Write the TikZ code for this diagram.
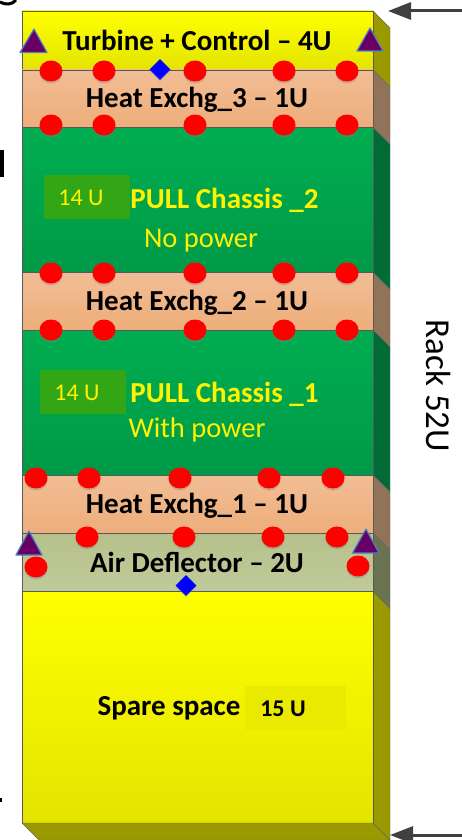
\documentclass[tikz,border=0pt]{standalone}
\usepackage{fontspec}
\setmainfont{Carlito}
\usetikzlibrary{arrows.meta,shadows,shapes.geometric}
\definecolor{rackyellow}{HTML}{9A9A00}
\definecolor{rackbrown}{HTML}{917359}
\definecolor{rackgreen}{HTML}{006B35}
\definecolor{rackolive}{HTML}{6A7350}
\definecolor{yellowtop}{HTML}{FFFF00}
\definecolor{yellowbot}{HTML}{E4E400}
\definecolor{peachtop}{HTML}{F2BD95}
\definecolor{peachbot}{HTML}{EDAE7A}
\definecolor{greentop}{HTML}{00AD50}
\definecolor{greenbot}{HTML}{009A48}
\definecolor{olivetop}{HTML}{B5C08A}
\definecolor{olivebot}{HTML}{C0CB9A}
\definecolor{boxgreen}{HTML}{33A616}
\definecolor{boxyellow}{HTML}{EAEA00}
\definecolor{trianglefill}{HTML}{660066}
\definecolor{triangleline}{HTML}{4F81BD}
\tikzset{
  reddot/.style={ellipse, fill=red, minimum width=23pt, minimum height=21pt, inner sep=0,
    drop shadow={shadow xshift=0pt, shadow yshift=-2pt, opacity=.35}},
  bluediamond/.style={diamond, fill=blue, minimum size=21pt, inner sep=0,
    drop shadow={shadow xshift=0pt, shadow yshift=-1.5pt, opacity=.3}},
  purpletriangle/.style={draw=triangleline, line width=1.2pt, fill=trianglefill, line join=round},
  layertext/.style={font=\fontsize{29}{32}\selectfont\bfseries, text=black, inner sep=0},
  pulltext/.style={font=\fontsize{29}{32}\selectfont\bfseries, text=yellow, inner sep=0},
  notetext/.style={font=\fontsize{28.5}{32}\selectfont, text=yellow, inner sep=0},
  sizetext/.style={font=\fontsize{24}{28}\selectfont, text=yellow, inner sep=0},
  sizebox/.style={minimum width=86pt, minimum height=44pt, inner sep=0},
  rackarrow/.style={draw=black!75, line width=3pt, -{Stealth[length=23pt,width=17pt,inset=0pt]}}
}
\begin{document}
\begin{tikzpicture}[x=1pt,y=-1pt]
\useasboundingbox (0,0) rectangle (462,840);
% layers of the rack, top to bottom
\foreach \ya/\yb/\ctop/\cbot/\cside in {11/70/yellowtop/yellowbot/rackyellow,
    70/127.5/peachtop/peachbot/rackbrown,
    127.5/272.5/greentop/greenbot/rackgreen,
    272.5/330/peachtop/peachbot/rackbrown,
    330/475/greentop/greenbot/rackgreen,
    475/533/peachtop/peachbot/rackbrown,
    533/591.5/olivetop/olivebot/rackolive,
    591.5/823/yellowtop/yellowbot/rackyellow} {
  \draw[black!60,fill=\cside] (373,\ya)--(390,\ya+17)--(390,\yb+17)--(373,\yb)--cycle;
  \draw[black!65,line width=.9pt,top color=\ctop,bottom color=\cbot] (22,\ya) rectangle (373,\yb);
}
\draw[black!60,fill=rackyellow] (22,823)--(373,823)--(390,840)--(39,840)--cycle;

\node[sizebox,fill=boxgreen] (box_b) at (87,197) {};
\node[sizebox,fill=boxgreen] (box_a) at (83,392) {};
\node[sizebox,minimum width=101pt,fill=boxyellow] (box_c) at (295.5,708) {};

\foreach \y in {71,125,273,330} {
  \foreach \x in {51,104,195,284,347} {
    \node[reddot] (dot\x_\y) at (\x,\y) {};
  }
}
\foreach \x in {36,89,180,269,333} { \node[reddot] (dot\x_478) at (\x,478) {}; }
\foreach \x in {87,184,273,337} { \node[reddot] (dot\x_537) at (\x,537) {}; }
\node[reddot] (dotl) at (36,567) {};
\node[reddot] (dotr) at (358,566) {};

\node[bluediamond] (valve_a) at (160,69.5) {};
\node[bluediamond] (valve_b) at (186,585.5) {};

\draw[purpletriangle] (34,29)--(47,52.5)--(20,52.5)--cycle;
\draw[purpletriangle] (370,28)--(383,51)--(357,51)--cycle;
\draw[purpletriangle] (29,531)--(42,555)--(16,555)--cycle;
\draw[purpletriangle] (366,529)--(379,553)--(352.5,553)--cycle;

\node[layertext] (turbine) at (197,40.5) {Turbine + Control -- 4U};
\node[layertext] (exch_c) at (197,100) {Heat Exchg\_3 -- 1U};
\node[pulltext] (pull_b) at (224.5,200.5) {PULL Chassis \_2};
\node[notetext] (nopower) at (201,241) {No power};
\node[sizetext] (size_b) at (81,197.5) {14 U};
\node[layertext] (exch_b) at (197,302.5) {Heat Exchg\_2 -- 1U};
\node[pulltext] (pull_a) at (224.5,394) {PULL Chassis \_1};
\node[notetext] (power) at (197,430) {With power};
\node[sizetext] (size_a) at (77,392.5) {14 U};
\node[layertext] (exch_a) at (197,505.5) {Heat Exchg\_1 -- 1U};
\node[layertext] (deflector) at (197,562) {Air Deflector -- 2U};
\node[layertext] (spare) at (169,708.5) {Spare space};
\node[sizetext,text=black,font=\fontsize{24}{28}\selectfont\bfseries] (size_c) at (283,708.5) {15 U};
\node[rotate=-90,font=\fontsize{35}{38}\selectfont,inner sep=0] (rack) at (439,386) {Rack 52U};

\coordinate (rack_top) at (388,11);
\coordinate (rack_bot) at (390,835);
\coordinate (in_top) at (462,11);
\coordinate (in_bot) at (462,835);
\draw[rackarrow] (in_top)--(rack_top);
\draw[rackarrow] (in_bot)--(rack_bot);

% bits at the left edge
\fill[black] (0,150) rectangle (3.5,177);
\fill[black] (0,798) rectangle (1.5,802);
\draw[black,line width=3pt] (0,2)..controls (5,5) and (12,5) ..(16,0);
\end{tikzpicture}
\end{document}
